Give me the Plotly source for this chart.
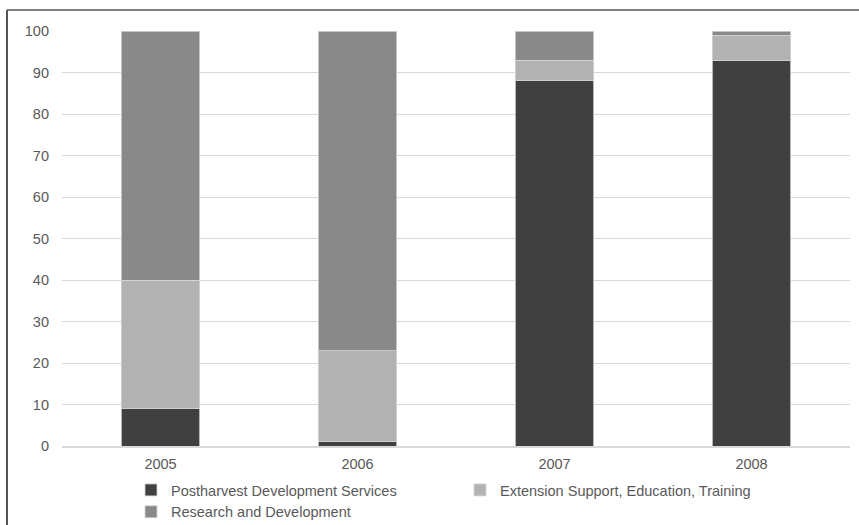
import plotly.graph_objects as go

# Share of spending by program area (%), per year
years = ["2005", "2006", "2007", "2008"]
postharvest = [9, 1, 88, 93]
extension = [31, 22, 5, 6]
research = [60, 77, 7, 1]

series = [
    ("Postharvest Development Services", postharvest, "#404040"),
    ("Extension Support, Education, Training", extension, "#b2b2b2"),
    ("Research and Development", research, "#898989"),
]

fig = go.Figure()
for name, vals, color in series:
    fig.add_trace(go.Bar(
        x=years, y=vals, name=name,
        marker=dict(color=color, line=dict(color="#d4d4d4", width=0.8)),
        width=0.4,
    ))

W, H = 859, 525
ml, mr, mt, mb = 62, 9, 31, 79
pw, ph = W - ml - mr, H - mt - mb

fig.update_layout(
    width=W, height=H,
    margin=dict(l=ml, r=mr, t=mt, b=mb, autoexpand=False),
    barmode="stack",
    plot_bgcolor="white", paper_bgcolor="white",
    font=dict(family="Liberation Sans, Arial, sans-serif", size=14, color="#595959"),
    xaxis=dict(showgrid=False, showline=True, linecolor="#d9d9d9", linewidth=1.5,
               ticks="", ticklabelstandoff=4,
               tickfont=dict(size=14.5, color="#595959")),
    yaxis=dict(range=[0, 100], dtick=10, showgrid=True, gridcolor="#d9d9d9",
               gridwidth=1, zeroline=False, showline=False, ticks="",
               ticklabelstandoff=12, tickfont=dict(size=14.5, color="#595959")),
    legend=dict(orientation="h", xref="container", x=131 / W, xanchor="left",
                yref="container", y=(H - 474) / H, yanchor="top",
                entrywidth=284, entrywidthmode="pixels",
                font=dict(size=14.5, color="#595959"), traceorder="normal",
                itemwidth=30, tracegroupgap=0),
    showlegend=True,
)

# Frame lines along the top and left edges of the figure
x_left = (7 - ml) / pw
y_top = 1 + (mt - 10) / ph
fig.add_shape(type="line", xref="paper", yref="paper",
              x0=x_left, x1=(W - ml) / pw, y0=y_top, y1=y_top,
              line=dict(color="#808080", width=2))
fig.add_shape(type="line", xref="paper", yref="paper",
              x0=x_left, x1=x_left, y0=y_top, y1=-(mb + 5) / ph,
              line=dict(color="#555555", width=2))

fig.write_html("out.html")
